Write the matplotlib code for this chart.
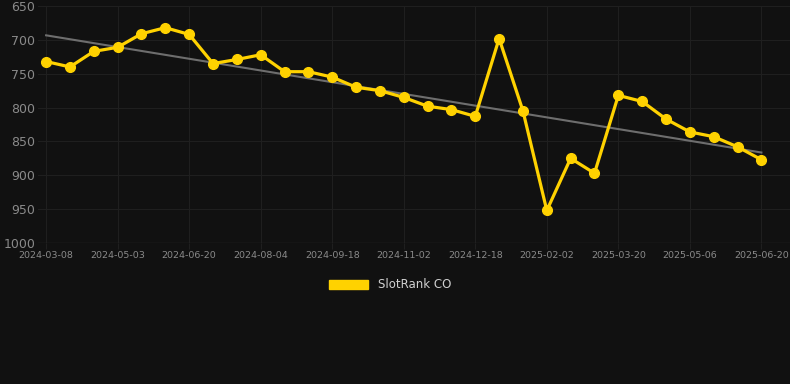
import numpy as np
import matplotlib
matplotlib.use("Agg")
from matplotlib import pyplot as plt
from matplotlib.patches import Patch

# rank values, one per observation (lower rank number = better, axis inverted)
ranks = [732, 740, 717, 711, 691, 682, 692, 735, 729, 722,
         747, 747, 755, 770, 775, 785, 798, 803, 813, 698,
         805, 952, 875, 897, 782, 791, 817, 836, 843, 858, 877]
tick_labels = ["2024-03-08", "2024-05-03", "2024-06-20", "2024-08-04",
               "2024-09-18", "2024-11-02", "2024-12-18", "2025-02-02",
               "2025-03-20", "2025-05-06", "2025-06-20"]
y_ticks = [650, 700, 750, 800, 850, 900, 950, 1000]
series_name = "SlotRank CO"

bg = "#111111"
grid_c = "#1f1f1f"
text_c = "#8a8a8a"
yellow = "#FFD200"

x = np.arange(len(ranks))
fit = np.polyfit(x, ranks, 1)
trend = np.polyval(fit, x[[0, -1]])

fig = plt.figure(figsize=(7.9, 3.84), dpi=100, facecolor=bg)
ax = fig.add_axes([38 / 790, (384 - 243) / 384, 752 / 790, 237 / 384])
ax.set_facecolor(bg)

ax.plot(x[[0, -1]], trend, color="#6e6e6e", lw=1.5, zorder=2)
ax.plot(x, ranks, color=yellow, lw=2.3, marker="o", ms=7, zorder=3)

ax.set_ylim(1000, 650)
ax.set_xlim(-0.34, 31.2)
ax.set_yticks(y_ticks)
ax.set_xticks(x[::3])
ax.set_xticklabels(tick_labels)
ax.grid(True, color=grid_c, lw=0.8)
ax.tick_params(axis="y", colors=text_c, labelsize=9, length=0, pad=2)
ax.tick_params(axis="x", colors=grid_c, labelcolor=text_c, labelsize=6.8, length=4, pad=2)
for s in ax.spines.values():
    s.set_visible(False)
ax.axhline(1000, color="#282828", lw=1)

fig.legend(handles=[Patch(color=yellow, label=series_name)],
           loc="center", bbox_to_anchor=(390 / 790, 1 - 285 / 384),
           frameon=False, handlelength=3.3, handleheight=0.9,
           labelcolor="#d0d0d0", fontsize=8.5)

fig.savefig("out.png", dpi=100, facecolor=bg)
